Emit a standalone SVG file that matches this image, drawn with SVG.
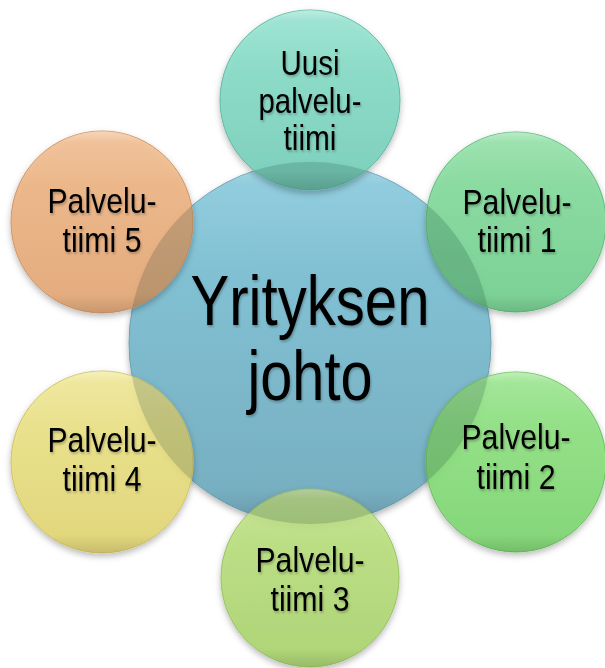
<svg xmlns="http://www.w3.org/2000/svg" width="605" height="668" viewBox="0 0 605 668">
<defs>
<style>
text { font-family: "Liberation Sans", Arial, sans-serif; fill: #000; text-anchor: middle; filter: url(#ts); }
.o { font-size: 35px; }
.c { font-size: 70px; }
.disc { filter: url(#ds); }
.outer { fill-opacity: 0.88; }
.gloss { fill: url(#gloss); }
</style>
<filter id="ds" x="-20%" y="-20%" width="140%" height="150%">
<feDropShadow dx="0" dy="3" stdDeviation="3" flood-color="#000" flood-opacity="0.3"/>
</filter>
<filter id="ts" x="-10%" y="-20%" width="120%" height="150%">
<feDropShadow dx="1" dy="2" stdDeviation="1.2" flood-color="#000" flood-opacity="0.25"/>
</filter>
<linearGradient id="gloss" x1="0" y1="0" x2="0" y2="1">
<stop offset="0" stop-color="#fff" stop-opacity="0.35"/>
<stop offset="0.06" stop-color="#fff" stop-opacity="0.1"/>
<stop offset="0.3" stop-color="#fff" stop-opacity="0"/>
<stop offset="0.9" stop-color="#000" stop-opacity="0"/>
<stop offset="1" stop-color="#000" stop-opacity="0.12"/>
</linearGradient>
<linearGradient id="gBlue" x1="0" y1="0" x2="0" y2="1"><stop offset="0" stop-color="#86c9dc"/><stop offset="1" stop-color="#76adbf"/></linearGradient>
<linearGradient id="gTeal" x1="0" y1="0" x2="0" y2="1"><stop offset="0" stop-color="#8ce2cd"/><stop offset="1" stop-color="#72cdb7"/></linearGradient>
<linearGradient id="gMint" x1="0" y1="0" x2="0" y2="1"><stop offset="0" stop-color="#88dfa0"/><stop offset="1" stop-color="#70cf8d"/></linearGradient>
<linearGradient id="gGreen" x1="0" y1="0" x2="0" y2="1"><stop offset="0" stop-color="#92e585"/><stop offset="1" stop-color="#7ad56d"/></linearGradient>
<linearGradient id="gLime" x1="0" y1="0" x2="0" y2="1"><stop offset="0" stop-color="#bfe382"/><stop offset="1" stop-color="#a8d36b"/></linearGradient>
<linearGradient id="gYellow" x1="0" y1="0" x2="0" y2="1"><stop offset="0" stop-color="#efe78c"/><stop offset="1" stop-color="#e1d470"/></linearGradient>
<linearGradient id="gOrange" x1="0" y1="0" x2="0" y2="1"><stop offset="0" stop-color="#f1b987"/><stop offset="1" stop-color="#e4a572"/></linearGradient>
<clipPath id="cc"><circle cx="310" cy="343" r="181"/></clipPath>
</defs>

<g id="node-center">
<circle class="disc" cx="310" cy="343" r="181" fill="url(#gBlue)" stroke="#6aa0b2" stroke-width="1"/>
<circle class="gloss" cx="310" cy="343" r="181"/>
<text class="c" x="310" y="325" textLength="239" lengthAdjust="spacingAndGlyphs">Yrityksen</text>
<text class="c" x="310" y="400" textLength="125" lengthAdjust="spacingAndGlyphs">johto</text>
</g>

<g id="node-uusi">
<circle class="disc outer" cx="310" cy="100" r="90" fill="url(#gTeal)" stroke="#5fb8a3" stroke-width="1"/>
<circle class="gloss" cx="310" cy="100" r="90"/>
</g>
<g id="node-tiimi1">
<circle class="disc outer" cx="516" cy="222" r="90" fill="url(#gMint)" stroke="#5fbb7c" stroke-width="1"/>
<circle class="gloss" cx="516" cy="222" r="90"/>
</g>
<g id="node-tiimi2">
<circle class="disc outer" cx="516" cy="462" r="90" fill="url(#gGreen)" stroke="#68c25c" stroke-width="1"/>
<circle class="gloss" cx="516" cy="462" r="90"/>
</g>
<g id="node-tiimi3">
<circle class="disc outer" cx="310" cy="578" r="89" fill="url(#gLime)" stroke="#98c25d" stroke-width="1"/>
<circle class="gloss" cx="310" cy="578" r="89"/>
</g>
<g id="node-tiimi4">
<circle class="disc outer" cx="102" cy="462" r="91" fill="url(#gYellow)" stroke="#cfc260" stroke-width="1"/>
<circle class="gloss" cx="102" cy="462" r="91"/>
</g>
<g id="node-tiimi5">
<circle class="disc outer" cx="102" cy="222" r="91" fill="url(#gOrange)" stroke="#d09464" stroke-width="1"/>
<circle class="gloss" cx="102" cy="222" r="91"/>
</g>

<g id="overlaps" clip-path="url(#cc)" fill="#2a3a30" opacity="0.16">
<circle cx="310" cy="100" r="90"/>
<circle cx="516" cy="222" r="90"/>
<circle cx="516" cy="462" r="90"/>
<circle cx="310" cy="578" r="89"/>
<circle cx="102" cy="462" r="91"/>
<circle cx="102" cy="222" r="91"/>
</g>

<g id="labels">
<text class="o" x="310" y="75" textLength="59" lengthAdjust="spacingAndGlyphs">Uusi</text>
<text class="o" x="310" y="113" textLength="103" lengthAdjust="spacingAndGlyphs">palvelu-</text>
<text class="o" x="310" y="150" textLength="53" lengthAdjust="spacingAndGlyphs">tiimi</text>

<text class="o" x="517" y="214" textLength="109" lengthAdjust="spacingAndGlyphs">Palvelu-</text>
<text class="o" x="517" y="252" textLength="79" lengthAdjust="spacingAndGlyphs">tiimi 1</text>

<text class="o" x="516" y="449" textLength="109" lengthAdjust="spacingAndGlyphs">Palvelu-</text>
<text class="o" x="516" y="489" textLength="79" lengthAdjust="spacingAndGlyphs">tiimi 2</text>

<text class="o" x="310" y="572" textLength="109" lengthAdjust="spacingAndGlyphs">Palvelu-</text>
<text class="o" x="310" y="611" textLength="79" lengthAdjust="spacingAndGlyphs">tiimi 3</text>

<text class="o" x="102" y="452" textLength="109" lengthAdjust="spacingAndGlyphs">Palvelu-</text>
<text class="o" x="102" y="491" textLength="79" lengthAdjust="spacingAndGlyphs">tiimi 4</text>

<text class="o" x="102" y="213" textLength="109" lengthAdjust="spacingAndGlyphs">Palvelu-</text>
<text class="o" x="102" y="252" textLength="79" lengthAdjust="spacingAndGlyphs">tiimi 5</text>
</g>
</svg>
